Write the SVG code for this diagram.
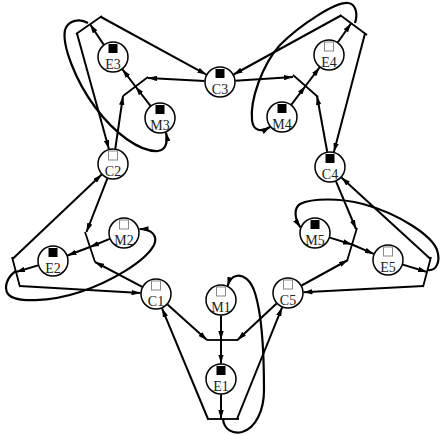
<svg xmlns="http://www.w3.org/2000/svg" width="441" height="435" viewBox="0 0 441 435">
<defs>
<marker id="ah" viewBox="0 0 10 6" markerWidth="9" markerHeight="5.5" refX="10" refY="3" orient="auto" markerUnits="userSpaceOnUse">
<path d="M0,0 L10,3 L0,6 z" fill="#000"/>
</marker>
<style>
.a{fill:none;stroke:#000;stroke-width:2;marker-end:url(#ah)}
.l{fill:none;stroke:#000;stroke-width:2.2;marker-end:url(#ah)}
.t{stroke:#000;stroke-width:1.8}
.p{fill:#fff;stroke:#000;stroke-width:1.5}
.tx{font-family:"Liberation Serif","Times New Roman",serif;font-size:14px;fill:#222;text-anchor:middle}
.f{fill:#000}
.e{fill:#fff;stroke:#888;stroke-width:1}
</style>
</defs>
<rect width="441" height="435" fill="#fff"/>
<g id="connectors">
<!-- sector 1 -->
<path class="a" d="M167.5,304.4 L207,340"/>
<path class="a" d="M276.6,303.5 L237.5,340"/>
<path class="a" d="M221,315.5 L221,340"/>
<path class="a" d="M221,340 L221,363.5"/>
<path class="a" d="M221,394.5 L221,419"/>
<path class="a" d="M208,419 L162,308.3"/>
<path class="a" d="M237,419 L282.1,307.3"/>
<path class="l" d="M223,419 C224,430 233,434 242,432 C256,428 264,410 264,390 C264,350 262,315 255,293 C251,280 243,274 236,276 C232,277 229,281 227.6,286"/>
<!-- sector 2 -->
<path class="a" d="M107.4,178.4 L86.5,232"/>
<path class="a" d="M109.7,238.9 L90,247"/>
<path class="a" d="M90,247 L67.5,255.5"/>
<path class="a" d="M142.3,286.8 L95,262"/>
<path class="a" d="M38.1,265.4 L16,272"/>
<path class="a" d="M12.5,259 L101.7,174.6"/>
<path class="a" d="M19.5,286 L140.5,293.1"/>
<path class="l" d="M16,271 C8,276 3,287 8,294 C15,303 50,302 80,292 C110,282 145,262 154,245 C158,236 152,229 139.5,229"/>
<!-- sector 3 -->
<path class="a" d="M204.5,81.1 L148,78"/>
<path class="a" d="M150.5,105.8 L135.5,86.5"/>
<path class="a" d="M135.5,86.5 L122.4,69.3"/>
<path class="a" d="M115.3,148.7 L123,96"/>
<path class="a" d="M103.7,44.6 L90,24.3"/>
<path class="a" d="M101,17 L206.4,74.6"/>
<path class="a" d="M77,33.5 L108.9,149.1"/>
<path class="l" d="M88,23 C80,18 68,20 65,30 C62,45 75,80 95,107 C115,134 140,152 158,151 C166,150 168,142 166,132.5"/>
<!-- sector 4 -->
<path class="a" d="M235.5,80.8 L293,77"/>
<path class="a" d="M291.4,104.6 L305.5,86"/>
<path class="a" d="M305.5,86 L319.6,67.4"/>
<path class="a" d="M327.2,151.8 L317,96"/>
<path class="a" d="M337.9,42.3 L351,23.5"/>
<path class="a" d="M341,15.5 L233.6,74.5"/>
<path class="a" d="M365,33.5 L333.9,152"/>
<path class="l" d="M355,23 C358,14 356,4 348,3 C335,2 300,25 280,45 C262,65 250,100 252,120 C253,130 260,133 270.1,127"/>
<!-- sector 5 -->
<path class="a" d="M336,181.3 L356,229"/>
<path class="a" d="M329.8,237.6 L352,244.5"/>
<path class="a" d="M352,244.5 L373.8,253.9"/>
<path class="a" d="M301.6,285.5 L348,260"/>
<path class="a" d="M402.8,264.6 L427,272"/>
<path class="a" d="M430.5,259 L341.4,177.5"/>
<path class="a" d="M423.5,286 L303.5,292.2"/>
<path class="l" d="M428,270 C436,271 441,262 437,250 C432,236 400,214 363,204 C340,198 312,198 300,204 C294,208 294,218 300.5,227.5"/>
</g>
<g id="T1a"><line class="t" x1="207" y1="340" x2="238" y2="340"/></g>
<g id="T1b"><line class="t" x1="207" y1="419" x2="239" y2="419"/></g>
<g id="T2a"><line class="t" x1="85" y1="232" x2="95" y2="262"/></g>
<g id="T2b"><line class="t" x1="12" y1="257" x2="20" y2="287"/></g>
<g id="T3a"><line class="t" x1="123" y1="96" x2="148" y2="77"/></g>
<g id="T3b"><line class="t" x1="76" y1="34" x2="102" y2="16"/></g>
<g id="T4a"><line class="t" x1="293" y1="75" x2="318" y2="97"/></g>
<g id="T4b"><line class="t" x1="340" y1="15" x2="367" y2="35"/></g>
<g id="T5a"><line class="t" x1="357" y1="228" x2="347" y2="261"/></g>
<g id="T5b"><line class="t" x1="431" y1="257" x2="423" y2="287"/></g>

<g id="C1"><circle class="p" cx="156" cy="294" r="15"/><rect class="e" x="151.5" y="281" width="9" height="9"/><text class="tx" x="156" y="306">C1</text></g>
<g id="C2"><circle class="p" cx="113" cy="164" r="15"/><rect class="e" x="108.5" y="151" width="9" height="9"/><text class="tx" x="113" y="176">C2</text></g>
<g id="C3"><circle class="p" cx="220" cy="82" r="15"/><rect class="f" x="215.5" y="69" width="9" height="9"/><text class="tx" x="220" y="94">C3</text></g>
<g id="C4"><circle class="p" cx="330" cy="167" r="15"/><rect class="f" x="325.5" y="154" width="9" height="9"/><text class="tx" x="330" y="179">C4</text></g>
<g id="C5"><circle class="p" cx="288" cy="293" r="15"/><rect class="e" x="283.5" y="280" width="9" height="9"/><text class="tx" x="288" y="305">C5</text></g>

<g id="M1"><circle class="p" cx="221" cy="300" r="15"/><rect class="e" x="216.5" y="287" width="9" height="9"/><text class="tx" x="221" y="312">M1</text></g>
<g id="M2"><circle class="p" cx="124" cy="233" r="15"/><rect class="e" x="119.5" y="220" width="9" height="9"/><text class="tx" x="124" y="245">M2</text></g>
<g id="M3"><circle class="p" cx="160" cy="118" r="15"/><rect class="f" x="155.5" y="105" width="9" height="9"/><text class="tx" x="160" y="130">M3</text></g>
<g id="M4"><circle class="p" cx="282" cy="117" r="15"/><rect class="f" x="277.5" y="104" width="9" height="9"/><text class="tx" x="282" y="129">M4</text></g>
<g id="M5"><circle class="p" cx="315" cy="233" r="15"/><rect class="f" x="310.5" y="220" width="9" height="9"/><text class="tx" x="315" y="245">M5</text></g>

<g id="E1"><circle class="p" cx="221" cy="379" r="15"/><rect class="f" x="216.5" y="366" width="9" height="9"/><text class="tx" x="221" y="391">E1</text></g>
<g id="E2"><circle class="p" cx="53" cy="261" r="15"/><rect class="f" x="48.5" y="248" width="9" height="9"/><text class="tx" x="53" y="273">E2</text></g>
<g id="E3"><circle class="p" cx="113" cy="57" r="15"/><rect class="f" x="108.5" y="44" width="9" height="9"/><text class="tx" x="113" y="69">E3</text></g>
<g id="E4"><circle class="p" cx="329" cy="55" r="15"/><rect class="e" x="324.5" y="42" width="9" height="9"/><text class="tx" x="329" y="67">E4</text></g>
<g id="E5"><circle class="p" cx="388" cy="260" r="15"/><rect class="e" x="383.5" y="247" width="9" height="9"/><text class="tx" x="388" y="272">E5</text></g>
</svg>
